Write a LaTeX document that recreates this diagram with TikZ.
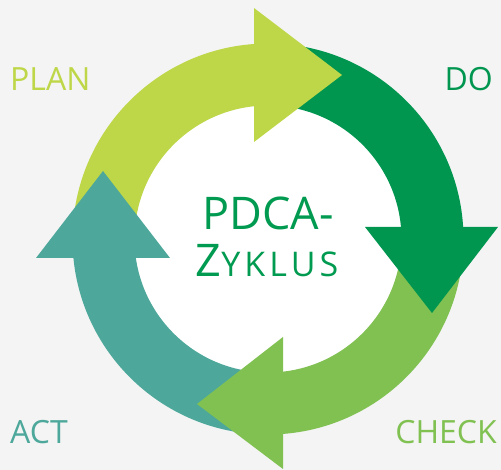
\documentclass[tikz,border=0pt]{standalone}
\usepackage{fontspec}
\setmainfont{Open Sans}
\usetikzlibrary{calc}
\definecolor{bgc}{HTML}{F4F4F4}
\definecolor{planc}{HTML}{BED748}
\definecolor{doc}{HTML}{009650}
\definecolor{checkc}{HTML}{80C152}
\definecolor{actc}{HTML}{4DA89B}
\definecolor{titlec}{HTML}{009A50}
\tikzset{
  lbl/.style={inner sep=0pt, font=\fontsize{32}{32}\selectfont},
  ttl/.style={inner sep=0pt, text=titlec, font=\fontsize{45}{45}\selectfont},
}
\newcommand{\shaft}[3]{% color, start angle, end angle
  \fill[#1] ($(C)+(#2:\Rout)$) arc[start angle=#2, end angle=#3, radius=\Rout]
    -- ($(C)+(#3:\Rin)$) arc[start angle=#3, end angle=#2, radius=\Rin] -- cycle;}
\begin{document}
\begin{tikzpicture}[x=1pt,y=1pt]
\useasboundingbox (0,0) rectangle (501,470);
\fill[bgc] (0,0) rectangle (501,470);
\coordinate (C) at (268,231);
\def\Rout{195.5}
\def\Rin{133.5}
\fill[white] (C) circle[radius=\Rin];
% shafts
\shaft{planc}{180}{90}
\shaft{doc}{90}{0}
\shaft{checkc}{0}{-90}
\shaft{actc}{-90}{-180}
% heads
\coordinate (ph1) at (254,462); \coordinate (ph2) at (254,328); \coordinate (pht) at (342,395);
\coordinate (dh1) at (365,243); \coordinate (dh2) at (498,243); \coordinate (dht) at (432,157);
\coordinate (ch1) at (283,133); \coordinate (ch2) at (283,1); \coordinate (cht) at (197,66);
\coordinate (ah1) at (36,212); \coordinate (ah2) at (170,212); \coordinate (aht) at (103,299);
\fill[planc] (ph1) -- (pht) -- (ph2) -- cycle;
\fill[doc] (dh1) -- (dht) -- (dh2) -- cycle;
\fill[checkc] (ch1) -- (cht) -- (ch2) -- cycle;
\fill[actc] (ah1) -- (aht) -- (ah2) -- cycle;
% labels
\node[lbl, text=planc, anchor=base west] (plan) at (10,379) {PLAN};
\node[lbl, text=doc, anchor=base east] (do) at (493,379) {DO};
\node[lbl, text=actc, anchor=base west] (act) at (10,26) {ACT};
\node[lbl, text=checkc, anchor=base east] (check) at (497,26) {CHECK};
\node[ttl, anchor=base] (t1) at (268,240) {PDCA-};
\node[ttl, anchor=base] (t2) at (267,193) {Z\fontsize{34}{34}\selectfont\addfontfeatures{LetterSpace=12}YKLUS};
\end{tikzpicture}
\end{document}
